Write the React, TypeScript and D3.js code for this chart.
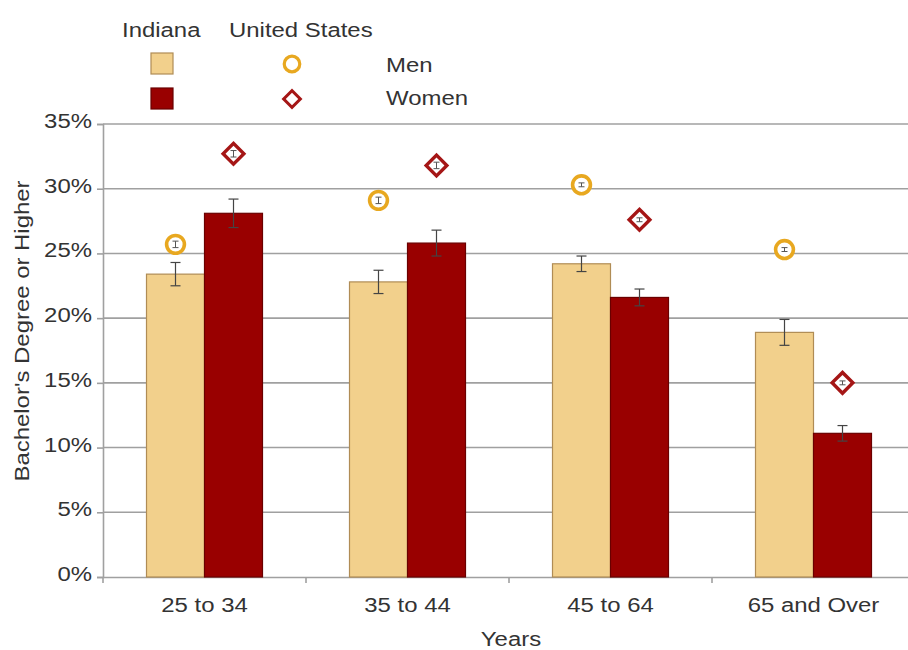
import { useEffect, useRef } from "react";
import * as d3 from "d3";

const categories = ["25 to 34", "35 to 44", "45 to 64", "65 and Over"];
const indianaMen = [23.4, 22.8, 24.2, 18.9];
const indianaMenErr = [0.9, 0.9, 0.6, 1.0];
const indianaWomen = [28.1, 25.8, 21.6, 11.1];
const indianaWomenErr = [1.1, 1.0, 0.65, 0.6];
const usMen = [25.7, 29.1, 30.3, 25.3];
const usWomen = [32.7, 31.8, 27.6, 15.0];
const usErr = [0.25, 0.25, 0.15, 0.15];
const yTicks = [0, 5, 10, 15, 20, 25, 30, 35];

const LIGHT = "#f2d08c";
const LIGHT_STROKE = "#b08c55";
const DARK = "#990000";
const DARK_STROKE = "#6a0000";
const GOLD = "#e8a820";
const RED = "#a51616";
const FONT = "'Liberation Sans', Arial, sans-serif";
const STRETCH = 1.14;

const App = () => {
  const ref = useRef<SVGSVGElement>(null);

  useEffect(() => {
    const svg = d3.select(ref.current);
    const width = 908,
      height = 650;
    const margin = { top: 124, left: 103, bottom: 577, right: 915 };
    svg.selectAll("*").remove();
    svg.attr("width", width).attr("height", height);

    // text is a little wider than it is tall in the original
    const label = (
      parent: d3.Selection<any, any, any, any>,
      tx: number,
      ty: number,
      txt: string,
      anchor = "start",
      rotate = 0
    ) =>
      parent
        .append("g")
        .attr(
          "transform",
          `translate(${tx},${ty}) rotate(${rotate}) scale(${STRETCH},1)`
        )
        .append("text")
        .attr("text-anchor", anchor)
        .attr("fill", "#333")
        .style("font-size", "21px")
        .style("font-family", FONT)
        .text(txt);

    const x = d3
      .scaleBand<string>()
      .domain(categories)
      .range([margin.left, margin.right]);
    const y = d3.scaleLinear().domain([0, 35]).range([margin.bottom, margin.top]);
    const barW = 58;

    // gridlines
    svg
      .append("g")
      .selectAll("line")
      .data(yTicks.slice(1))
      .enter()
      .append("line")
      .attr("x1", margin.left)
      .attr("x2", margin.right)
      .attr("y1", (d) => y(d))
      .attr("y2", (d) => y(d))
      .attr("stroke", "#a0a0a0")
      .attr("stroke-width", 1.6);

    // y axis
    const yAxis = svg
      .append("g")
      .attr("transform", `translate(${margin.left},0)`)
      .call(d3.axisLeft(y).tickValues(yTicks).tickSize(6).tickFormat(() => ""));
    yAxis.selectAll("path,line").attr("stroke", "#a0a0a0").attr("stroke-width", 1.6);
    yTicks.forEach((t) => label(svg, 92, y(t) + 4, `${t}%`, "end"));

    // x axis
    const xAxis = svg
      .append("g")
      .attr("transform", `translate(0,${margin.bottom})`)
      .call(d3.axisBottom(x).tickSize(0).tickFormat(() => ""));
    xAxis.select(".domain").attr("stroke", "#a0a0a0").attr("stroke-width", 1.6);
    xAxis
      .append("g")
      .selectAll("line")
      .data(categories)
      .enter()
      .append("line")
      .attr("x1", (d) => x(d) ?? 0)
      .attr("x2", (d) => x(d) ?? 0)
      .attr("y1", 0)
      .attr("y2", 6)
      .attr("stroke", "#a0a0a0")
      .attr("stroke-width", 1.6);

    const center = (i: number) => (x(categories[i]) ?? 0) + x.bandwidth() / 2;
    categories.forEach((c, i) => label(svg, center(i), 612, c, "middle"));

    const drawBars = (
      vals: number[],
      errs: number[],
      offset: number,
      fill: string,
      stroke: string
    ) => {
      const g = svg.append("g");
      g.selectAll("rect")
        .data(vals)
        .enter()
        .append("rect")
        .attr("x", (_, i) => center(i) + offset)
        .attr("y", (d) => y(d))
        .attr("width", barW)
        .attr("height", (d) => y(0) - y(d))
        .attr("fill", fill)
        .attr("stroke", stroke)
        .attr("stroke-width", 1.2);
      vals.forEach((v, i) => {
        const cx = center(i) + offset + barW / 2;
        const e = errs[i];
        g.append("line")
          .attr("x1", cx)
          .attr("x2", cx)
          .attr("y1", y(v + e))
          .attr("y2", y(v - e))
          .attr("stroke", "#444")
          .attr("stroke-width", 1.2);
        [v + e, v - e].forEach((t) =>
          g
            .append("line")
            .attr("x1", cx - 5)
            .attr("x2", cx + 5)
            .attr("y1", y(t))
            .attr("y2", y(t))
            .attr("stroke", "#444")
            .attr("stroke-width", 1.2)
        );
      });
    };

    drawBars(indianaMen, indianaMenErr, -barW, LIGHT, LIGHT_STROKE);
    drawBars(indianaWomen, indianaWomenErr, 0, DARK, DARK_STROKE);

    const circle = d3.symbol().type(d3.symbolCircle).size(250);
    const diamond = d3.symbol().type(d3.symbolSquare).size(215);

    const drawMarkers = (
      vals: number[],
      offset: number,
      kind: "circle" | "diamond"
    ) => {
      const g = svg.append("g");
      vals.forEach((v, i) => {
        const cx = center(i) + offset;
        const cy = y(v);
        g.append("path")
          .attr("d", kind === "circle" ? circle() : diamond())
          .attr(
            "transform",
            `translate(${cx},${cy})${kind === "diamond" ? " rotate(45)" : ""}`
          )
          .attr("fill", "#fff")
          .attr("stroke", kind === "circle" ? GOLD : RED)
          .attr("stroke-width", kind === "circle" ? 3.6 : 3.4);
        const e = usErr[i];
        g.append("line")
          .attr("x1", cx)
          .attr("x2", cx)
          .attr("y1", y(v + e))
          .attr("y2", y(v - e))
          .attr("stroke", "#555")
          .attr("stroke-width", 1);
        [v + e, v - e].forEach((t) =>
          g
            .append("line")
            .attr("x1", cx - 3)
            .attr("x2", cx + 3)
            .attr("y1", y(t))
            .attr("y2", y(t))
            .attr("stroke", "#555")
            .attr("stroke-width", 1)
        );
      });
    };

    drawMarkers(usMen, -barW / 2, "circle");
    drawMarkers(usWomen, barW / 2, "diamond");

    // axis titles
    label(svg, 29, 331, "Bachelor's Degree or Higher", "middle", -90);
    label(svg, (margin.left + margin.right) / 2 + 2, 646, "Years", "middle");

    // legend
    const lg = svg.append("g");
    label(lg, 122, 37, "Indiana");
    label(lg, 229, 37, "United States");
    lg.append("rect")
      .attr("x", 151).attr("y", 53).attr("width", 22).attr("height", 21)
      .attr("fill", LIGHT).attr("stroke", LIGHT_STROKE).attr("stroke-width", 1.2);
    lg.append("rect")
      .attr("x", 151).attr("y", 88).attr("width", 22).attr("height", 21)
      .attr("fill", DARK).attr("stroke", DARK_STROKE).attr("stroke-width", 1.2);
    lg.append("path")
      .attr("d", d3.symbol().type(d3.symbolCircle).size(190)())
      .attr("transform", "translate(292,64)")
      .attr("fill", "#fff").attr("stroke", GOLD).attr("stroke-width", 3.2);
    lg.append("path")
      .attr("d", d3.symbol().type(d3.symbolSquare).size(140)())
      .attr("transform", "translate(292,99) rotate(45)")
      .attr("fill", "#fff").attr("stroke", RED).attr("stroke-width", 3);
    label(lg, 386, 72, "Men");
    label(lg, 386, 105, "Women");
  }, []);

  return (
    <svg
      ref={ref}
      style={{ position: "absolute", left: 0, top: 0, background: "#fff" }}
    />
  );
};

export default App;
